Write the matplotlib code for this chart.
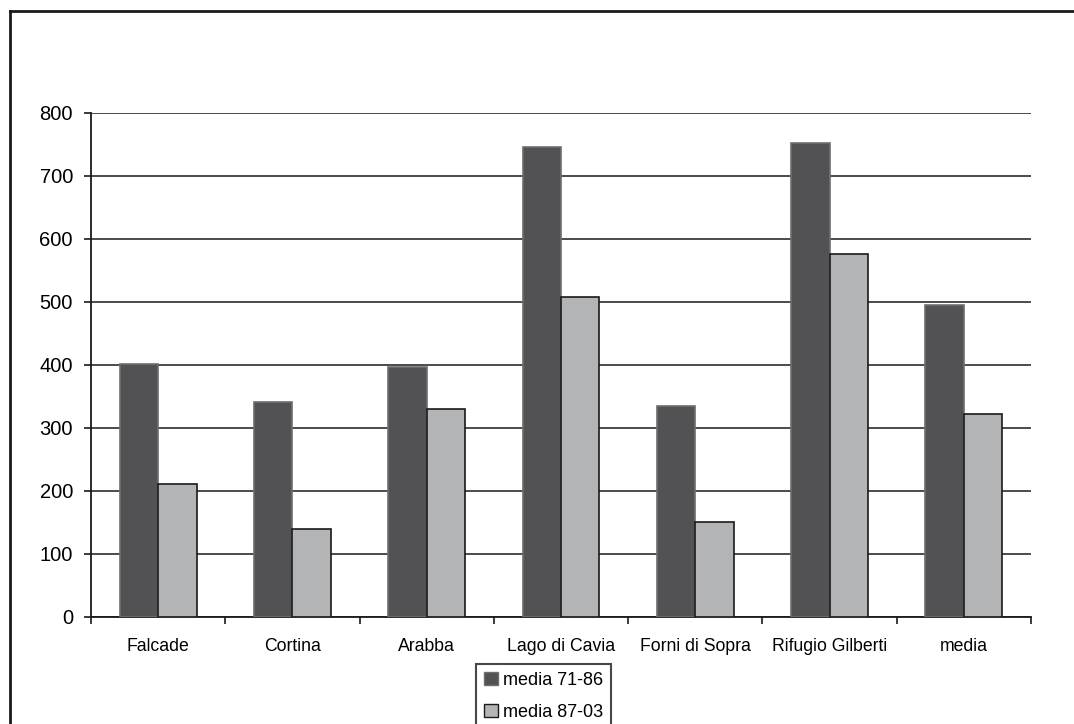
import matplotlib.pyplot as plt
import numpy as np
from matplotlib.patches import Patch
from matplotlib.lines import Line2D

plt.rcParams['font.family'] = ['Liberation Sans', 'DejaVu Sans']

# data
stations = ["Falcade", "Cortina", "Arabba", "Lago di Cavia",
            "Forni di Sopra", "Rifugio Gilberti", "media"]
media_71_86 = [401, 341, 396, 745, 335, 752, 495]
media_87_03 = [211, 139, 329, 508, 151, 575, 321]
series_names = ["media 71-86", "media 87-03"]

dark = "#525254"
light = "#b3b4b6"

fig = plt.figure(figsize=(10.74, 7.24), dpi=100)
ax = fig.add_axes([91 / 1074, 1 - 616.7 / 724, 940 / 1074, 504 / 724])

x = np.arange(len(stations))
w = 0.286
ax.bar(x - w / 2, media_71_86, w, color=dark, edgecolor="#6e6e70", linewidth=1.2, zorder=3)
ax.bar(x + w / 2, media_87_03, w, color=light, edgecolor="#1a1a1a", linewidth=1.2, zorder=3)

ax.set_xlim(-0.5, len(stations) - 0.5)
ax.set_ylim(0, 800)
ax.set_yticks(np.arange(0, 801, 100))
ax.yaxis.grid(True, color="#1a1a1a", linewidth=1.1, zorder=0)
ax.set_axisbelow(True)

ax.set_xticks(x)
ax.set_xticklabels(stations)
ax.set_xticks(np.arange(-0.5, len(stations)), minor=True)
ax.tick_params(axis="x", which="major", length=0, pad=15, labelsize=12.7)
ax.tick_params(axis="x", which="minor", length=5, width=1.2, direction="out", color="#1a1a1a")
ax.tick_params(axis="y", length=5, width=1.2, pad=8, labelsize=14.5, color="#1a1a1a")

for s in ["top", "right"]:
    ax.spines[s].set_visible(False)
for s in ["left", "bottom"]:
    ax.spines[s].set_linewidth(1.3)
    ax.spines[s].set_color("#1a1a1a")

# legend under the axis (bottom cut off by the figure edge)
handles = [Patch(facecolor=dark, edgecolor="#6e6e70"),
           Patch(facecolor=light, edgecolor="#1a1a1a")]
leg = fig.legend(handles, series_names, loc="upper left",
                 bbox_to_anchor=(476 / 1074, 1 - 664 / 724),
                 fontsize=13, frameon=True, fancybox=False,
                 handlelength=0.75, handleheight=0.75, handletextpad=0.3,
                 labelspacing=0.8, borderpad=0.45, borderaxespad=0)
leg.get_frame().set_edgecolor("#1a1a1a")
leg.get_frame().set_linewidth(1.5)

# outer border (right and bottom cut off)
fig.add_artist(Line2D([9.5 / 1074, 9.5 / 1074], [0, 1 - 11 / 724],
                      transform=fig.transFigure, color="#1a1a1a", lw=2))
fig.add_artist(Line2D([9.5 / 1074, 1], [1 - 11 / 724, 1 - 11 / 724],
                      transform=fig.transFigure, color="#1a1a1a", lw=2))

fig.savefig("out.png", dpi=100)
